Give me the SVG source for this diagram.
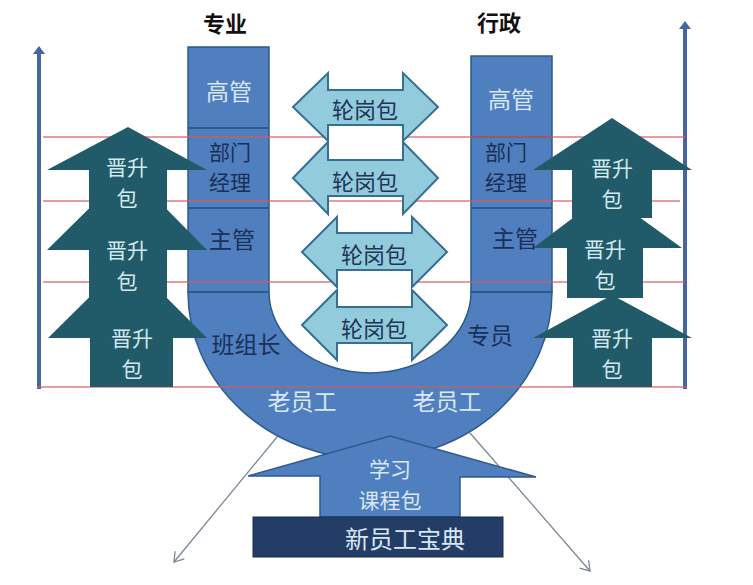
<svg xmlns="http://www.w3.org/2000/svg" width="753" height="585" viewBox="0 0 753 585">
<defs>
<style>
text{font-family:"Noto Sans CJK SC","Noto Sans",sans-serif;text-anchor:middle;dominant-baseline:central}
.col{fill:#4f7fbe;stroke:#2e5a8c;stroke-width:1.5}
.div{stroke:#2e5a8c;stroke-width:2}
.red{stroke:#cf5f62;stroke-width:1.6;opacity:0.8}
.axis{stroke:#4467a0;stroke-width:4}
.rot{fill:#92cbdc;stroke:#356f92;stroke-width:2;stroke-linejoin:miter}
.up{fill:#215a68}
.lt{fill:#d9e7f6;font-size:23px}
.dk{fill:#1b2f57;font-size:23px}
.st{font-size:21px}
.ut{fill:#d3e9f0;font-size:21px}
.rt{fill:#1d3558;font-size:22px}
.title{fill:#111;font-size:22px;font-weight:bold}
.diag{stroke:#7a8796;stroke-width:1.3;fill:none}
</style>
<marker id="open" markerWidth="14" markerHeight="14" refX="10" refY="7" orient="auto" markerUnits="userSpaceOnUse">
<path d="M1,1 L10,7 L1,13" fill="none" stroke="#7a8796" stroke-width="1.3"/>
</marker>
</defs>
<rect width="753" height="585" fill="#ffffff"/>

<g id="titles">
<text class="title" x="225" y="22">专业</text>
<text class="title" x="499" y="21">行政</text>
</g>

<g id="axes">
<line class="axis" x1="39" y1="52" x2="39" y2="389"/>
<polygon points="33,54 39,46 45,54" fill="#4467a0"/>
<line class="axis" x1="685" y1="27" x2="685" y2="389"/>
<polygon points="679,29 685,21 691,29" fill="#4467a0"/>
</g>

<g id="connectors">
<line class="diag" x1="277" y1="437" x2="174" y2="562" marker-end="url(#open)"/>
<line class="diag" x1="470" y1="433" x2="590" y2="571" marker-end="url(#open)"/>
</g>

<g id="u-shape">
<path class="col" d="M188,292 A182,167 0 0 0 552,292 L471,292 A101,81 0 0 1 269,292 Z"/>
</g>

<g id="col-left">
<rect class="col" x="188" y="47" width="81" height="245"/>
<line class="div" x1="188" y1="128" x2="269" y2="128"/>
<line class="div" x1="188" y1="208" x2="269" y2="208"/>
<line class="div" x1="188" y1="292" x2="269" y2="292"/>
</g>

<g id="col-right">
<rect class="col" x="471" y="56" width="81" height="236"/>
<line class="div" x1="471" y1="137" x2="552" y2="137"/>
<line class="div" x1="471" y1="208" x2="552" y2="208"/>
<line class="div" x1="471" y1="292" x2="552" y2="292"/>
</g>

<g id="learn-arrow">
<polygon class="col" points="390,436 536,477 460,477 460,517 320,517 320,476 248,476"/>
</g>

<g id="handbook">
<rect x="253" y="517" width="250" height="40" fill="#233d66" stroke="#1a2f50" stroke-width="1"/>
</g>

<g id="level-lines">
<line class="red" x1="43" y1="137" x2="685" y2="137"/>
<line class="red" x1="43" y1="201" x2="680" y2="201"/>
<line class="red" x1="43" y1="282" x2="685" y2="282"/>
<line class="red" x1="37" y1="387" x2="687" y2="387"/>
</g>

<g id="gaps">
<rect x="328" y="125" width="75" height="35" fill="#ffffff"/>
<rect x="337" y="270" width="75" height="37" fill="#ffffff"/>
</g>

<g id="rotate-1">
<polygon class="rot" points="293,107 328,73 328,90 403,90 403,73 438,107 403,141 403,125 328,125 328,141"/>
</g>
<g id="rotate-2">
<polygon class="rot" points="293,178 328,142 328,160 403,160 403,142 438,178 403,214 403,196 328,196 328,214"/>
</g>
<g id="rotate-3">
<polygon class="rot" points="302,252 337,217 337,233 412,233 412,217 447,252 412,287 412,270 337,270 337,287"/>
</g>
<g id="rotate-4">
<polygon class="rot" points="302,325 337,290 337,307 412,307 412,290 447,325 412,360 412,343 337,343 337,360"/>
</g>

<g id="promo-left-3">
<polygon class="up" points="48,338 128,259 207,338 173,338 173,387 90,387 90,338"/>
</g>
<g id="promo-left-2">
<polygon class="up" points="47,250 128,170 207,250 167,250 167,298 89,298 89,250"/>
</g>
<g id="promo-left-1">
<polygon class="up" points="47,170 128,127 207,170 167,170 167,210 89,210 89,170"/>
</g>

<g id="promo-right-3">
<polygon class="up" points="533,338 612,295 692,338 652,338 652,387 573,387 573,338"/>
</g>
<g id="promo-right-2">
<polygon class="up" points="533,248 606,193 682,248 643,248 643,298 567,298 567,248"/>
</g>
<g id="promo-right-1">
<polygon class="up" points="533,170 612,118 692,170 652,170 652,218 572,218 572,170"/>
</g>

<g id="labels">
<text class="lt" x="229" y="90">高管</text>
<text class="dk st"><tspan x="230" y="151">部门</tspan><tspan x="230" y="181">经理</tspan></text>
<text class="dk" x="232" y="238">主管</text>
<text class="lt" x="511" y="98">高管</text>
<text class="dk st"><tspan x="506" y="151">部门</tspan><tspan x="506" y="181">经理</tspan></text>
<text class="dk" x="515" y="237">主管</text>
<text class="dk" x="246" y="343">班组长</text>
<text class="dk" x="490" y="334">专员</text>
<text class="lt" x="302" y="400">老员工</text>
<text class="lt" x="447" y="400">老员工</text>

<text class="rt" x="365" y="108">轮岗包</text>
<text class="rt" x="365" y="180">轮岗包</text>
<text class="rt" x="374" y="253">轮岗包</text>
<text class="rt" x="374" y="327">轮岗包</text>

<text class="ut"><tspan x="127" y="166">晋升</tspan><tspan x="127" y="197">包</tspan></text>
<text class="ut"><tspan x="127" y="249">晋升</tspan><tspan x="127" y="280">包</tspan></text>
<text class="ut"><tspan x="132" y="337">晋升</tspan><tspan x="132" y="368">包</tspan></text>

<text class="ut"><tspan x="612" y="167">晋升</tspan><tspan x="612" y="198">包</tspan></text>
<text class="ut"><tspan x="605" y="248">晋升</tspan><tspan x="605" y="279">包</tspan></text>
<text class="ut"><tspan x="612" y="337">晋升</tspan><tspan x="612" y="368">包</tspan></text>

<text class="lt st"><tspan x="390" y="468">学习</tspan><tspan x="390" y="499">课程包</tspan></text>
<text class="lt" x="405" y="537" style="font-size:24px">新员工宝典</text>
</g>
</svg>
